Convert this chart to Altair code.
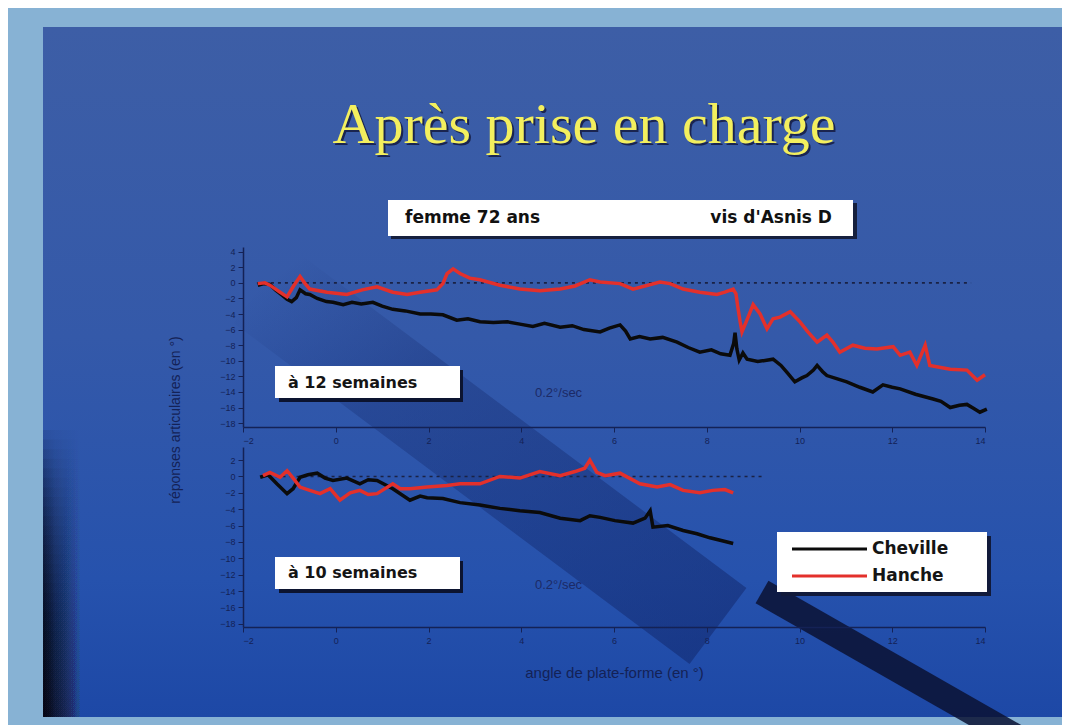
import altair as alt
import pandas as pd

# ---------------- data ----------------
series_names = ["Cheville", "Hanche"]
series_colors = ["#0b0b0b", "#e3302b"]

x_ticks = [-2, 0, 2, 4, 6, 8, 10, 12, 14]
y_ticks_12 = [4, 2, 0, -2, -4, -6, -8, -10, -12, -14, -16, -18]
y_ticks_10 = [2, 0, -2, -4, -6, -8, -10, -12, -14, -16, -18]
x_title = "angle de plate-forme (en °)"
y_title = "réponses articulaires (en °)"

# à 12 semaines
w12_cheville_x = [-1.68, -1.55, -1.42, -1.30, -1.15, -1.05, -0.95, -0.85, -0.77, -0.65, -0.56, -0.40, -0.20, -0.06,
                  0.16, 0.35, 0.55, 0.80, 1.00, 1.23, 1.50, 1.82, 2.05, 2.31, 2.61, 2.85, 3.11, 3.40, 3.70, 3.97,
                  4.25, 4.50, 4.84, 5.10, 5.35, 5.70, 5.90, 6.13, 6.25, 6.35, 6.55, 6.78, 7.05, 7.36, 7.60, 7.85,
                  8.10, 8.30, 8.50, 8.58, 8.61, 8.65, 8.70, 8.78, 8.87, 9.10, 9.43, 9.60, 9.73, 9.90, 10.05, 10.16,
                  10.30, 10.38, 10.50, 10.59, 10.80, 11.02, 11.30, 11.58, 11.80, 12.00, 12.17, 12.50, 12.88, 13.05,
                  13.25, 13.45, 13.61, 13.75, 13.89, 14.04]
w12_cheville_y = [-0.3, -0.1, -0.2, -0.9, -1.6, -2.1, -2.4, -1.9, -0.9, -1.4, -1.5, -2.0, -2.4, -2.5,
                  -2.8, -2.5, -2.7, -2.5, -3.0, -3.4, -3.6, -4.0, -4.0, -4.1, -4.8, -4.6, -5.0, -5.1, -5.0, -5.3,
                  -5.6, -5.2, -5.7, -5.5, -6.0, -6.3, -5.8, -5.4, -6.2, -7.2, -6.9, -7.2, -7.0, -7.6, -8.3, -8.9,
                  -8.6, -9.1, -9.3, -7.8, -6.4, -8.5, -9.9, -9.0, -9.8, -10.1, -9.8, -10.6, -11.5, -12.7, -12.2, -11.9,
                  -11.2, -10.6, -11.4, -11.9, -12.3, -12.7, -13.4, -14.0, -13.1, -13.4, -13.6, -14.3, -14.9, -15.2,
                  -16.0, -15.7, -15.6, -16.1, -16.6, -16.2]
w12_hanche_x = [-1.68, -1.53, -1.42, -1.20, -1.05, -0.92, -0.77, -0.66, -0.56, -0.19, 0.24, 0.57, 0.89, 1.23,
                1.54, 1.82, 2.18, 2.31, 2.40, 2.53, 2.68, 2.89, 3.11, 3.54, 3.97, 4.40, 4.84, 5.16, 5.48, 5.70,
                6.13, 6.41, 6.99, 7.21, 7.49, 7.85, 8.22, 8.39, 8.57, 8.63, 8.67, 8.72, 8.76, 8.85, 9.00, 9.15,
                9.30, 9.43, 9.58, 9.80, 10.01, 10.18, 10.38, 10.59, 10.72, 10.87, 11.15, 11.41, 11.67, 12.02,
                12.17, 12.38, 12.53, 12.71, 12.81, 13.25, 13.61, 13.83, 14.00]
w12_hanche_y = [-0.1, 0.0, -0.3, -1.2, -1.8, -0.5, 0.8, -0.1, -0.8, -1.2, -1.5, -0.9, -0.5, -1.2,
                -1.5, -1.2, -0.9, -0.1, 1.2, 1.8, 1.2, 0.6, 0.4, -0.3, -0.8, -1.0, -0.8, -0.4, 0.4, 0.1,
                -0.1, -0.8, 0.1, -0.1, -0.8, -1.2, -1.5, -1.2, -0.8, -1.4, -3.1, -5.0, -6.3, -5.0, -2.8, -4.0,
                -5.9, -4.6, -4.4, -3.7, -5.0, -6.3, -7.6, -6.7, -7.6, -8.9, -8.0, -8.4, -8.5, -8.2,
                -9.3, -8.9, -10.6, -8.0, -10.6, -11.1, -11.2, -12.5, -11.8]

# à 10 semaines
w10_cheville_x = [-1.63, -1.46, -1.27, -1.05, -0.92, -0.77, -0.60, -0.40, -0.23, -0.06, 0.24, 0.52, 0.70, 0.89,
                  1.23, 1.60, 1.82, 1.97, 2.31, 2.68, 3.11, 3.54, 3.97, 4.40, 4.84, 5.27, 5.48, 5.70, 6.02, 6.41,
                  6.67, 6.78, 6.84, 7.16, 7.49, 7.79, 8.07, 8.29, 8.57]
w10_cheville_y = [-0.1, 0.2, -0.9, -2.1, -1.5, -0.1, 0.2, 0.4, -0.2, -0.5, -0.2, -0.9, -0.4, -0.5,
                  -1.5, -2.9, -2.4, -2.6, -2.7, -3.2, -3.5, -3.9, -4.2, -4.4, -5.1, -5.4, -4.8, -5.0, -5.4, -5.7,
                  -5.1, -4.2, -6.2, -6.0, -6.6, -7.0, -7.5, -7.8, -8.2]
w10_hanche_x = [-1.57, -1.42, -1.20, -1.05, -0.92, -0.77, -0.56, -0.34, -0.12, 0.09, 0.31, 0.52, 0.70, 0.89,
                1.23, 1.39, 1.60, 1.97, 2.40, 2.68, 3.11, 3.54, 3.97, 4.40, 4.84, 5.16, 5.37, 5.48, 5.63, 5.81,
                6.13, 6.56, 6.93, 7.21, 7.49, 7.85, 8.13, 8.39, 8.57]
w10_hanche_y = [0.1, 0.5, -0.1, 0.7, -0.2, -1.3, -1.7, -2.1, -1.5, -2.9, -2.0, -1.7, -2.2, -2.1,
                -0.9, -1.5, -1.5, -1.3, -1.1, -0.9, -0.9, 0.0, -0.2, 0.6, 0.1, 0.6, 1.0, 2.0, 0.5, 0.1,
                0.4, -0.9, -1.3, -1.0, -1.7, -2.0, -1.7, -1.6, -2.0]

ref12_x = [-1.7, 13.7]
ref10_x = [-1.6, 9.2]
ref_y = 0

# ---------------- helpers ----------------
def series_df(cx, cy, hx, hy):
    a = pd.DataFrame({"x": cx, "y": cy, "serie": series_names[0]})
    b = pd.DataFrame({"x": hx, "y": hy, "serie": series_names[1]})
    a["i"] = range(len(a))
    b["i"] = range(len(b))
    return pd.concat([a, b], ignore_index=True)

df12 = series_df(w12_cheville_x, w12_cheville_y, w12_hanche_x, w12_hanche_y)
df10 = series_df(w10_cheville_x, w10_cheville_y, w10_hanche_x, w10_hanche_y)

one = pd.DataFrame({"k": [0]})
OX, OY12, OY10 = 243, 247, 447   # page position of panel origins (for decorations only)
W, H = 742, 180

AX = "#142256"
FONT = "Liberation Sans"
BOLD = "DejaVu Sans"


def rect(x1, y1, x2, y2, oy, **kw):
    return alt.Chart(one).mark_rect(clip=False, **kw).encode(
        x=alt.value(x1 - OX), x2=alt.value(x2 - OX), y=alt.value(y1 - oy), y2=alt.value(y2 - oy))


def rule(x1, y1, x2, y2, oy, **kw):
    return alt.Chart(one).mark_rule(clip=False, **kw).encode(
        x=alt.value(x1 - OX), x2=alt.value(x2 - OX), y=alt.value(y1 - oy), y2=alt.value(y2 - oy))


def text(x, y, t, oy, **kw):
    return alt.Chart(one).mark_text(text=t, clip=False, **kw).encode(
        x=alt.value(x - OX), y=alt.value(y - oy))


def xenc(title=None):
    ax = dict(values=x_ticks, grid=False, labelColor=AX, domainColor=AX, tickColor=AX,
              labelFontSize=9, labelFont=FONT, tickSize=5, labelPadding=4, domainWidth=1.5,
              zindex=1)
    if title:
        ax.update(title=title, titleColor=AX, titleFont=FONT, titleFontSize=15,
                  titleFontWeight="normal", titlePadding=20)
    else:
        ax.update(title=None)
    return alt.X("x:Q", scale=alt.Scale(domain=[-2, 14], nice=False), axis=alt.Axis(**ax))


def yenc(ticks, domain):
    return alt.Y("y:Q", scale=alt.Scale(domain=domain, nice=False, zero=False),
                 axis=alt.Axis(values=ticks, title=None, grid=False, labelColor=AX, domainColor=AX,
                               tickColor=AX, labelFontSize=9, labelFont=FONT, tickSize=5,
                               labelPadding=3, domainWidth=1.5, format="d", zindex=1))


color_enc = alt.Color("serie:N", scale=alt.Scale(domain=series_names, range=series_colors), legend=None)


# ---------------- top panel (with slide backdrop) ----------------
panel_grad = alt.Gradient(gradient="linear", x1=0, x2=0, y1=0, y2=1, stops=[
    alt.GradientStop(color="#3d5ea6", offset=0),
    alt.GradientStop(color="#3459a9", offset=0.45),
    alt.GradientStop(color="#2652ad", offset=0.8),
    alt.GradientStop(color="#1d48a6", offset=1)])
dark_left = alt.Gradient(gradient="linear", x1=0, x2=1, y1=0, y2=0, stops=[
    alt.GradientStop(color="rgba(0,0,8,1)", offset=0),
    alt.GradientStop(color="rgba(0,0,8,0.5)", offset=0.3),
    alt.GradientStop(color="rgba(0,0,8,0)", offset=1)])
band_grad = alt.Gradient(gradient="linear", x1=0, y1=0, x2=1, y2=1, stops=[
    alt.GradientStop(color="rgba(12,28,90,0)", offset=0),
    alt.GradientStop(color="rgba(12,28,90,0.25)", offset=0.3),
    alt.GradientStop(color="rgba(12,28,90,0.42)", offset=1)])

backdrop = [
    rect(8, 8, 1062, 717, OY12, color="#87b2d4"),
    rect(43, 27, 1062, 717, OY12, fill=panel_grad),
]
# dark shading along the lower-left edge of the slide panel (stacked, all reaching the bottom)
n_slices = 30
for k in range(n_slices):
    y1 = 430 + k * (717 - 430) / n_slices
    backdrop.append(rect(43, y1, 82, 717, OY12, fill=dark_left, opacity=0.08))

backdrop += [
    rule(262, 285, 718, 626, OY12, stroke=band_grad, strokeWidth=95, strokeCap="butt"),
    rule(762, 592, 1030, 745, OY12, color="#0a1233", strokeWidth=26, opacity=0.85, strokeCap="butt"),
    # title
    text(584, 143, "Après prise en charge", OY12, font="Liberation Serif", fontSize=58,
         color="#1a2450", align="center", baseline="alphabetic", dx=2, dy=2),
    text(584, 143, "Après prise en charge", OY12, font="Liberation Serif", fontSize=58,
         color="#f3ef5e", align="center", baseline="alphabetic"),
    # header box
    rect(391, 203, 857, 239, OY12, color="#16203e"),
    rect(388, 200, 853, 236, OY12, color="white"),
    text(405, 218, "femme 72 ans", OY12, font=BOLD, fontWeight="bold", fontSize=17,
         color="#111111", align="left", baseline="middle"),
    text(832, 218, "vis d'Asnis D", OY12, font=BOLD, fontWeight="bold", fontSize=17,
         color="#111111", align="right", baseline="middle"),
    # shared y title
    text(176, 420, y_title, OY12, font=FONT, fontSize=14, color=AX,
         angle=270, align="center", baseline="middle"),
    # week label
    rect(279, 370, 463, 402, OY12, color="#0c1430"),
    rect(275, 366, 460, 398, OY12, color="white"),
    text(288, 383, "à 12 semaines", OY12, font=BOLD, fontWeight="bold", fontSize=16,
         color="#151515", align="left", baseline="middle"),
    text(535, 393, "0.2°/sec", OY12, font=FONT, fontSize=13, color="#1c2a66",
         align="left", baseline="middle"),
]

ref12 = alt.Chart(pd.DataFrame({"x": [ref12_x[0]], "x2": [ref12_x[1]], "y": [ref_y]})).mark_rule(
    color="#1a2244", strokeWidth=1.6, strokeDash=[3, 4]).encode(x=xenc(), x2="x2:Q",
                                                               y=yenc(y_ticks_12, [-18.5, 4.6]))
lines12 = alt.Chart(df12).mark_line(strokeWidth=3.5).encode(
    x=xenc(), y=yenc(y_ticks_12, [-18.5, 4.6]), color=color_enc, order="i:Q")

top = alt.layer(*backdrop, ref12, lines12).properties(width=W, height=H)

# ---------------- bottom panel ----------------
legend_rows = [549, 576]
deco10 = [
    rect(279, 561, 463, 593, OY10, color="#0c1430"),
    rect(275, 557, 460, 589, OY10, color="white"),
    text(288, 573, "à 10 semaines", OY10, font=BOLD, fontWeight="bold", fontSize=16,
         color="#151515", align="left", baseline="middle"),
    text(535, 585, "0.2°/sec", OY10, font=FONT, fontSize=13, color="#1c2a66",
         align="left", baseline="middle"),
    # legend box
    rect(781, 536, 991, 596, OY10, color="#111a3a"),
    rect(777, 532, 987, 592, OY10, color="white"),
]
for name, col, ry in zip(series_names, series_colors, legend_rows):
    deco10.append(rule(792, ry, 867, ry, OY10, color=col, strokeWidth=3))
    deco10.append(text(872, ry, name, OY10, font=BOLD, fontWeight="bold", fontSize=17,
                       color="#151515", align="left", baseline="middle"))

ref10 = alt.Chart(pd.DataFrame({"x": [ref10_x[0]], "x2": [ref10_x[1]], "y": [ref_y]})).mark_rule(
    color="#1a2244", strokeWidth=1.6, strokeDash=[3, 4]).encode(x=xenc(x_title), x2="x2:Q",
                                                               y=yenc(y_ticks_10, [-18.4, 3.6]))
lines10 = alt.Chart(df10).mark_line(strokeWidth=3.5).encode(
    x=xenc(x_title), y=yenc(y_ticks_10, [-18.4, 3.6]),
    color=color_enc, order="i:Q")

bottom = alt.layer(*deco10, ref10, lines10).properties(width=W, height=H)

chart = alt.vconcat(top, bottom, spacing=20, bounds="flush").properties(
    padding=0, background="#87b2d4", autosize=alt.AutoSizeParams(type="pad")
).configure_view(stroke=None)

chart.save("out.html", embed_options={"renderer": "svg", "actions": False})
